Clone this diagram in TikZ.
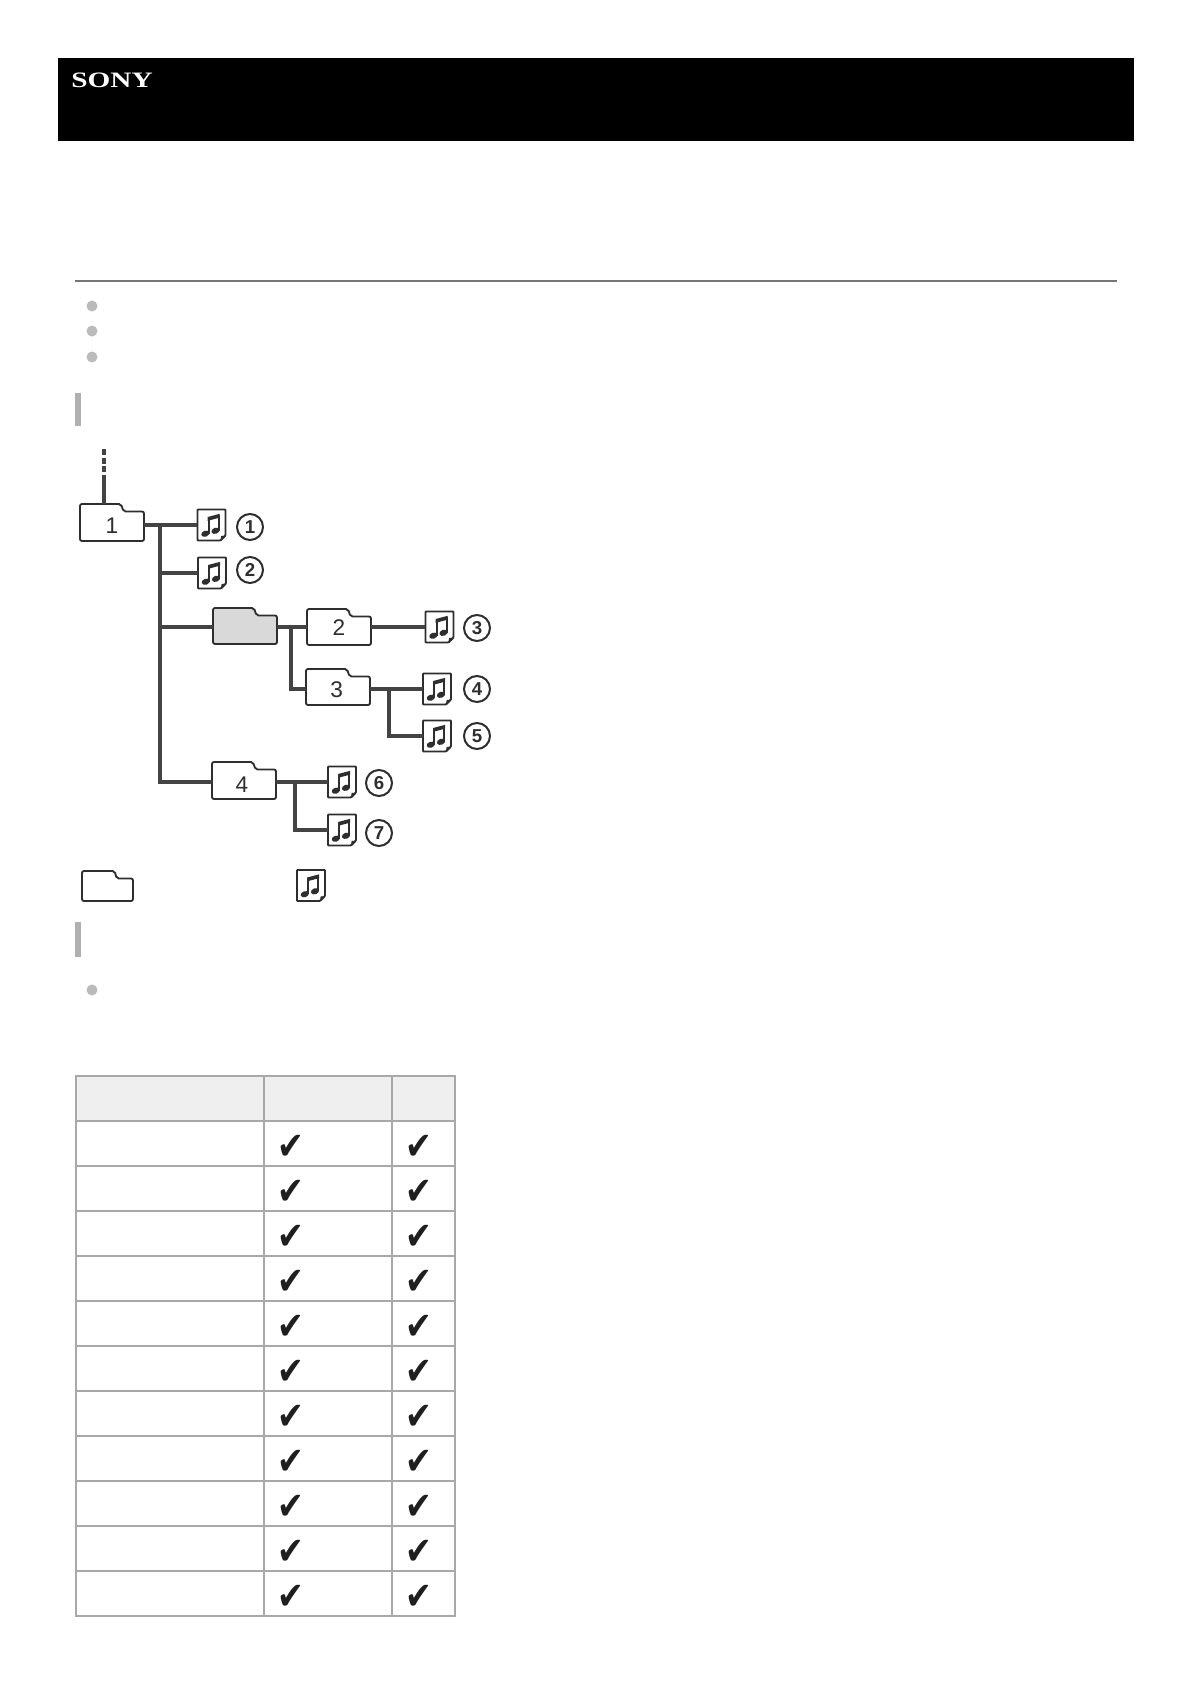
\documentclass[tikz,border=0pt]{standalone}
\usepackage{fontspec}
\setmainfont{Liberation Sans}
\newfontfamily\logofont{Liberation Serif}
\newfontfamily\symfont{DejaVu Sans}
\definecolor{ink}{HTML}{2E2E2E}
\definecolor{grid}{HTML}{A8A8A8}
\definecolor{head}{HTML}{EFEFEF}
\definecolor{bar}{HTML}{B0B0B0}
\definecolor{dot}{HTML}{BBBBBB}
\definecolor{rulecol}{HTML}{777777}
\definecolor{foldgrey}{HTML}{D9D9D9}
\tikzset{
  conn/.style={draw=ink!90,line width=2.3pt,line join=miter},
  outline/.style={draw=ink,line width=1.4pt,rounded corners=1.5pt},
  foldbox/.style={inner sep=0pt,minimum height=24pt,font=\fontsize{17}{18}\selectfont,text=ink},
  notebox/.style={inner sep=0pt,minimum width=21pt,minimum height=23pt},
  numcirc/.style={circle,draw=ink,line width=1.5pt,inner sep=0pt,minimum size=19.5pt,font=\bfseries\fontsize{14}{15}\selectfont,text=ink},
  tick/.style={inner sep=0pt,text=black!88,yscale=1.2,font=\symfont\fontsize{24}{25}\selectfont},
  sidebar/.style={fill=bar,draw=none},
  bullet/.style={fill=dot,draw=none},
  cellline/.style={draw=grid,line width=0.8pt},
  frameline/.style={draw=grid,line width=1.3pt},
}
\newcommand\flab[2]{\raisebox{\dimexpr-6pt-#1\relax}[0pt][0pt]{#2}}
% name, cx, yc, top, bottom, label, half width, fill
\newcommand\folderico[8]{%
  \path[outline,fill=#8] (#2-#7,#5) -- (#2-#7,#4) -- (#2-#7+#7*1.28,#4) -- (#2-#7+#7*1.36,#4+7.5) -- (#2+#7,#4+7.5) -- (#2+#7,#5) -- cycle;
  \node[foldbox,minimum width={#7*1.5pt}] (#1) at (#2,#3) {#6};
}
% name, cx, yc
\newcommand\noteico[3]{%
  \node[notebox] (#1) at (#2,#3) {};
  \begin{scope}[shift={(#2,#3)}]
    \path[outline,fill=white,rounded corners=0.6pt] (-14,-15.5) -- (14,-15.5) -- (14,10.5) -- (9,15.5) -- (-14,15.5) -- cycle;
    \fill[ink] (14,10.5) -- (9,15.5) -- (9.6,11) -- cycle;
    \fill[ink] (-6.2,8.7) ellipse [x radius=4.2,y radius=3,rotate=20];
    \fill[ink] (4,5.8) ellipse [x radius=4.2,y radius=3,rotate=20];
    \draw[ink,line width=1.5pt] (-3,8.5) -- (-3,-7) (7.4,5.5) -- (7.4,-10);
    \fill[ink] (-3.8,-8) -- (8.2,-11.2) -- (8.2,-7.4) -- (-3.8,-4.2) -- cycle;
  \end{scope}
}
\begin{document}
\begin{tikzpicture}[x=0.75pt,y=-0.75pt]
\useasboundingbox (0,0) rectangle (1190,1684);
\fill[white] (0,0) rectangle (1190,1684);
% banner
\fill[black] (58,58) rectangle (1134,141);
\node[inner sep=0pt,text=white,xscale=1.33,font=\logofont\bfseries\fontsize{16.5}{17}\selectfont] (logo) at (112,80) {SONY};
% rule, bullets, bars
\fill[rulecol] (75,280) rectangle (1117,282);
\foreach \y [count=\i] in {306,331,357,990} \fill[bullet] (92,\y) circle [radius=5.5];
\fill[sidebar] (75,393) rectangle (81,426);
\fill[sidebar] (75,922) rectangle (81,957);
% folders
\folderico{f1}{112}{525}{504}{541}{\flab{0pt}{1}}{32}{white}
\folderico{fg}{245}{627}{608}{644}{}{32}{foldgrey}
\folderico{f2}{339}{627}{609}{645}{\flab{0.4pt}{2}}{32}{white}
\folderico{f3}{338}{689}{669}{705}{\kern-2pt\flab{0.4pt}{3}}{32}{white}
\folderico{f4}{244}{782}{762}{799}{\kern-3pt\flab{1.5pt}{4}}{32}{white}
\folderico{fl}{107.5}{886}{871}{901}{}{25.5}{white}
% notes
\noteico{n1}{211.5}{525}
\noteico{n2}{212}{573}
\noteico{n3}{439.5}{627}
\noteico{n4}{437}{689}
\noteico{n5}{437}{736}
\noteico{n6}{342}{782}
\noteico{n7}{342}{830}
\noteico{nl}{311}{885.5}
% circled numbers
\node[numcirc] (c1) at (250,527) {1};
\node[numcirc] (c2) at (250,570) {2};
\node[numcirc] (c3) at (477,628) {3};
\node[numcirc] (c4) at (477,689) {4};
\node[numcirc] (c5) at (477,736) {5};
\node[numcirc] (c6) at (379,783) {6};
\node[numcirc] (c7) at (379,833) {7};
% connectors
\coordinate (r0) at (104,449);
\coordinate (r1) at (104,476);
\coordinate (r2) at (104,504);
\coordinate (j1) at (160,525);
\coordinate (j2) at (291,627);
\coordinate (j3) at (389,689);
\coordinate (j4) at (295,782);
\draw[ink!90,line width=2.3pt,dash pattern=on 4.5pt off 2pt] (r0) -- (r1);
\draw[conn] (r1) -- (r2);
\draw[conn] (f1.east) -- (n1.west);
\draw[conn] (j1) |- (n2.west);
\draw[conn] (j1) |- (fg.west);
\draw[conn] (j1) |- (f4.west);
\draw[conn] (fg.east) -- (f2.west);
\draw[conn] (j2) |- (f3.west);
\draw[conn] (f2.east) -- (n3.west);
\draw[conn] (f3.east) -- (n4.west);
\draw[conn] (j3) |- (n5.west);
\draw[conn] (f4.east) -- (n6.west);
\draw[conn] (j4) |- (n7.west);
% table
\fill[head] (76,1076) rectangle (455,1121);
\foreach \r in {1,...,10} \draw[cellline] (76,1121+45*\r) -- (455,1121+45*\r);
\draw[frameline] (76,1121) -- (455,1121);
\draw[cellline] (264,1076) -- (264,1616);
\draw[frameline] (392,1076) -- (392,1616);
\draw[frameline] (76,1076) rectangle (455,1616);
\foreach \r in {0,...,10} {
  \node[tick] (ta\r) at (290.5,1147.5+45*\r) {✔};
  \node[tick] (tb\r) at (419,1147.5+45*\r) {✔};
}
\end{tikzpicture}
\end{document}
